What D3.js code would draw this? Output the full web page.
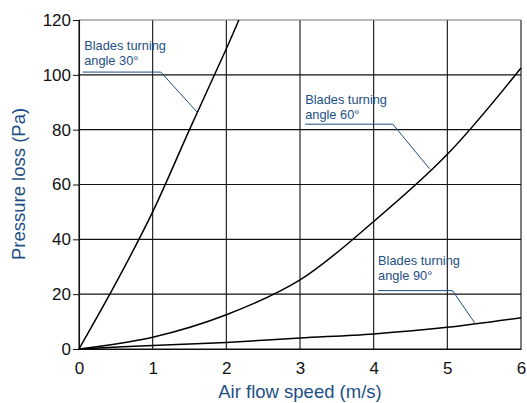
<!DOCTYPE html>
<html lang="en">
<head>
<meta charset="UTF-8">
<title>Pressure loss vs air flow speed</title>
<script src="https://d3js.org/d3.v7.min.js"></script>
<style>
  body { margin: 0; background: #fff; }
  svg text { font-family: "Liberation Sans", Arial, sans-serif; }
</style>
</head>
<body>
<svg id="chart"></svg>
<script>
// values
const xTicks = [0, 1, 2, 3, 4, 5, 6];
const yTicks = [0, 20, 40, 60, 80, 100, 120];

const blades30 = [[0, 0], [0.5, 24], [1, 50], [1.5, 80], [2, 109.5], [2.17, 120]];
const blades60 = [[0, 0], [1, 4.3], [2, 12.5], [3, 25.2], [4, 46.5], [5, 71], [6, 102.5]];
const blades90 = [[0, 0], [1, 1.3], [2, 2.4], [3, 4.0], [4, 5.5], [5, 7.9], [6, 11.4]];

// annotation labels and leader lines (data units)
const labels = [
  { lines: ["Blades turning", "angle 30\u00b0"], at: [0.07, 109], leader: [[0.05, 101], [1.11, 101], [1.61, 86.2]] },
  { lines: ["Blades turning", "angle 60\u00b0"], at: [3.07, 89.5], leader: [[3.07, 82], [4.26, 82], [4.76, 65.7]] },
  { lines: ["Blades turning", "angle 90\u00b0"], at: [4.06, 30.5], leader: [[4.06, 21.3], [5.07, 21.3], [5.37, 9.6]] }
];

const width = 527, height = 403;
const margin = { top: 20, right: 6, bottom: 54, left: 79 };
const blue = "#1d4f85";

const svg = d3.select("#chart").attr("width", width).attr("height", height);

const x = d3.scaleLinear().domain([0, 6]).range([margin.left, width - margin.right]);
const y = d3.scaleLinear().domain([0, 120]).range([height - margin.bottom, margin.top]);

// grid
svg.append("g").selectAll("line").data(xTicks).join("line")
  .attr("x1", d => x(d)).attr("x2", d => x(d))
  .attr("y1", y(0)).attr("y2", y(120))
  .attr("stroke", "#111").attr("stroke-width", 1.1);
svg.append("g").selectAll("line").data(yTicks).join("line")
  .attr("x1", x(0)).attr("x2", x(6))
  .attr("y1", d => y(d)).attr("y2", d => y(d))
  .attr("stroke", d => d === 120 ? "#777" : "#111").attr("stroke-width", 1.1);

// axes
const xAxis = svg.append("g")
  .attr("transform", `translate(0,${y(0)})`)
  .call(d3.axisBottom(x).tickValues(xTicks).tickFormat(d3.format("d")).tickSize(0).tickPadding(13));
const yAxis = svg.append("g")
  .attr("transform", `translate(${x(0)},0)`)
  .call(d3.axisLeft(y).tickValues(yTicks).tickFormat(d3.format("d")).tickSize(6).tickPadding(2));
[xAxis, yAxis].forEach(a => {
  a.select(".domain").attr("stroke", "#111").attr("stroke-width", 1.1);
  a.selectAll(".tick line").attr("stroke", "#111");
  a.selectAll("text").attr("fill", "#111").style("font-size", "17px");
});

// curves
const line = d3.line().x(d => x(d[0])).y(d => y(d[1])).curve(d3.curveCatmullRom.alpha(0.5));
svg.append("g").selectAll("path").data([blades30, blades60, blades90]).join("path")
  .attr("d", line)
  .attr("fill", "none")
  .attr("stroke", "#000")
  .attr("stroke-width", 1.5);

// annotations
const lead = d3.line().x(d => x(d[0])).y(d => y(d[1]));
labels.forEach(l => {
  svg.append("path").attr("d", lead(l.leader))
    .attr("fill", "none").attr("stroke", blue).attr("stroke-width", 1);
  const t = svg.append("text")
    .attr("x", x(l.at[0])).attr("y", y(l.at[1]))
    .attr("fill", blue).style("font-size", "12.8px");
  l.lines.forEach((s, i) => {
    t.append("tspan").attr("x", x(l.at[0])).attr("dy", i === 0 ? 0 : 15).text(s);
  });
});

// axis titles
svg.append("text")
  .attr("x", (x(0) + x(6)) / 2).attr("y", 398)
  .attr("text-anchor", "middle").attr("fill", blue)
  .style("font-size", "18.5px")
  .text("Air flow speed (m/s)");
svg.append("text")
  .attr("transform", `translate(25,${(110 + 258) / 2}) rotate(-90)`)
  .attr("text-anchor", "middle").attr("fill", blue)
  .style("font-size", "18.5px")
  .text("Pressure loss (Pa)");
</script>
</body>
</html>
